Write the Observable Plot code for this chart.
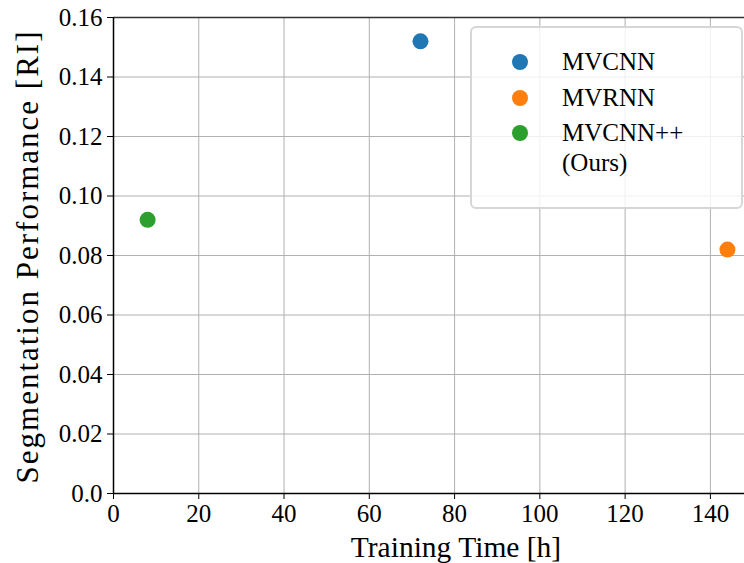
<!DOCTYPE html>
<html>
<head>
<meta charset="utf-8">
<script src="https://cdn.jsdelivr.net/npm/d3@7"></script>
<script src="https://cdn.jsdelivr.net/npm/@observablehq/plot@0.6"></script>
<style>
  html, body { margin: 0; padding: 0; background: #fff; }
  #wrap { position: relative; width: 744px; height: 563px; font-family: "Liberation Serif", serif; }
  #legend {
    position: absolute; left: 470px; top: 26px; width: 269px; height: 179px;
    background: rgba(255,255,255,0.8); border: 2px solid #d6d6d6; border-radius: 6px;
  }
  .item { position: absolute; left: 0; font-size: 25px; color: #000; line-height: 30px; }
  .sw { position: absolute; left: 40px; width: 16px; height: 16px; border-radius: 50%; }
  .lab { position: absolute; left: 90px; white-space: nowrap; }
</style>
</head>
<body>
<div id="wrap"></div>
<script>
const methods = ["MVCNN", "MVRNN", "MVCNN++\n(Ours)"];
const trainingHours = [72, 144, 8];
const riScores = [0.152, 0.082, 0.092];
const colors = ["#1f77b4", "#ff7f0e", "#2ca02c"];
const xTicks = [0, 20, 40, 60, 80, 100, 120, 140];
const yTicks = [0, 0.02, 0.04, 0.06, 0.08, 0.10, 0.12, 0.14, 0.16];
const xLabel = "Training Time [h]";
const yLabel = "Segmentation Performance [RI]";

const data = methods.map((m, i) => ({method: m, x: trainingHours[i], y: riScores[i], color: colors[i]}));

const chart = Plot.plot({
  width: 744,
  height: 563,
  marginLeft: 113,
  marginRight: 0,
  marginTop: 17,
  marginBottom: 70,
  style: {fontFamily: "Liberation Serif, serif", fontSize: "25px", color: "#000", background: "#fff", overflow: "visible"},
  x: {domain: [0, 148], label: null},
  y: {domain: [0, 0.16], label: null},
  marks: [
    Plot.gridX(xTicks, {stroke: "#b0b0b0", strokeOpacity: 1, strokeWidth: 1}),
    Plot.gridY(yTicks, {stroke: "#b0b0b0", strokeOpacity: 1, strokeWidth: 1}),
    Plot.ruleY([0.16], {stroke: "#333", strokeWidth: 1.5}),
    Plot.ruleY([0], {stroke: "#000", strokeWidth: 1.5}),
    Plot.ruleX([0], {stroke: "#000", strokeWidth: 1.5}),
    Plot.dot(data, {x: "x", y: "y", fill: "color", r: 8, stroke: null}),
    Plot.axisX({ticks: xTicks, tickSize: 6, tickPadding: 5, fontSize: 25, label: null, stroke: "#000"}),
    Plot.axisY({ticks: yTicks, tickSize: 6, tickPadding: 5, fontSize: 25, label: null,
      tickFormat: d => d === 0 ? "0.0" : d.toFixed(2), stroke: "#000"}),
    Plot.text([xLabel], {frameAnchor: "bottom", dx: 27, dy: 63, fontSize: 29.5, fill: "#000"}),
    Plot.text([yLabel], {frameAnchor: "left", textAnchor: "middle", dx: -85, dy: 1, rotate: -90, fontSize: 31, fill: "#000"})
  ]
});

d3.select(chart).selectAll("text").filter(function() { return this.textContent === yLabel; })
  .style("letter-spacing", "2px");

const wrap = document.getElementById("wrap");
wrap.appendChild(chart);

const legend = document.createElement("div");
legend.id = "legend";
const tops = [19, 55, 90];
data.forEach((d, i) => {
  const sw = document.createElement("div");
  sw.className = "sw";
  sw.style.background = d.color;
  sw.style.top = (tops[i] + 7) + "px";
  legend.appendChild(sw);
  const lab = document.createElement("div");
  lab.className = "item lab";
  lab.style.top = tops[i] + "px";
  lab.innerHTML = d.method.split("\n").join("<br>");
  legend.appendChild(lab);
});
wrap.appendChild(legend);
</script>
</body>
</html>
